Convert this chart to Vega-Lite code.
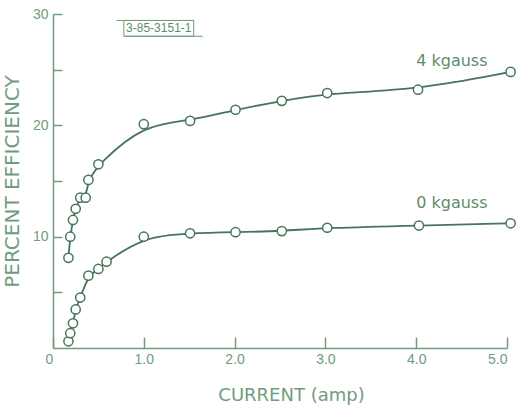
{
  "$schema": "https://vega.github.io/schema/vega-lite/v6.json",
  "width": 454,
  "height": 334,
  "autosize": {"type": "none"},
  "padding": {"left": 53, "top": 14, "right": 10, "bottom": 65},
  "background": "#ffffff",
  "config": {
    "view": {"stroke": null},
    "font": "DejaVu Sans",
    "axis": {
      "domainColor": "#6f9c7d",
      "tickColor": "#6f9c7d",
      "labelColor": "#6f9c7d",
      "titleColor": "#6f9c7d",
      "grid": false,
      "labelFont": "Liberation Sans",
      "labelFontSize": 14,
      "titleFont": "DejaVu Sans",
      "titleFontWeight": "normal",
      "domainWidth": 1.5,
      "tickWidth": 1.5
    }
  },
  "datasets": {
    "pts": [
      {"series": "4 kgauss", "current": 0.17, "eff": 8.1},
      {"series": "4 kgauss", "current": 0.19, "eff": 10.0},
      {"series": "4 kgauss", "current": 0.22, "eff": 11.5},
      {"series": "4 kgauss", "current": 0.25, "eff": 12.5},
      {"series": "4 kgauss", "current": 0.3, "eff": 13.5},
      {"series": "4 kgauss", "current": 0.36, "eff": 13.5},
      {"series": "4 kgauss", "current": 0.39, "eff": 15.1},
      {"series": "4 kgauss", "current": 0.5, "eff": 16.5},
      {"series": "4 kgauss", "current": 1.0, "eff": 20.1},
      {"series": "4 kgauss", "current": 1.51, "eff": 20.4},
      {"series": "4 kgauss", "current": 2.01, "eff": 21.4},
      {"series": "4 kgauss", "current": 2.52, "eff": 22.2},
      {"series": "4 kgauss", "current": 3.02, "eff": 22.9},
      {"series": "4 kgauss", "current": 4.02, "eff": 23.2},
      {"series": "4 kgauss", "current": 5.04, "eff": 24.8},
      {"series": "0 kgauss", "current": 0.17, "eff": 0.6},
      {"series": "0 kgauss", "current": 0.19, "eff": 1.33},
      {"series": "0 kgauss", "current": 0.22, "eff": 2.22},
      {"series": "0 kgauss", "current": 0.25, "eff": 3.46},
      {"series": "0 kgauss", "current": 0.3, "eff": 4.53},
      {"series": "0 kgauss", "current": 0.39, "eff": 6.5},
      {"series": "0 kgauss", "current": 0.5, "eff": 7.1},
      {"series": "0 kgauss", "current": 0.59, "eff": 7.75},
      {"series": "0 kgauss", "current": 1.0, "eff": 10.0},
      {"series": "0 kgauss", "current": 1.51, "eff": 10.3},
      {"series": "0 kgauss", "current": 2.01, "eff": 10.4},
      {"series": "0 kgauss", "current": 2.52, "eff": 10.5},
      {"series": "0 kgauss", "current": 3.02, "eff": 10.8},
      {"series": "0 kgauss", "current": 4.03, "eff": 11.0},
      {"series": "0 kgauss", "current": 5.04, "eff": 11.2}
    ],
    "labels": [
      {"text": "4  kgauss", "current": 4.0, "eff": 25.8},
      {"text": "0 kgauss", "current": 4.0, "eff": 13.0}
    ],
    "box": [
      {"text": "3-85-3151-1", "x1": 0.78, "x2": 1.55, "y1": 28.0, "y2": 29.42, "xm": 1.165, "ym": 28.7}
    ],
    "boxlines": [
      {"x1": 0.7, "x2": 1.55, "y": 29.42},
      {"x1": 0.78, "x2": 1.65, "y": 28.0}
    ]
  },
  "layer": [
    {
      "data": {"name": "pts"},
      "mark": {"type": "line", "interpolate": "basis", "color": "#46755a", "strokeWidth": 1.8},
      "encoding": {
        "x": {
          "field": "current", "type": "quantitative",
          "scale": {"domain": [0, 5], "nice": false, "zero": true},
          "axis": {
            "values": [0, 1, 2, 3, 4, 5],
            "labelExpr": "datum.value == 0 ? '0' : format(datum.value, '.1f')",
            "labelOffset": {"condition": {"test": "datum.value == 0", "value": -8}, "value": 0},
            "tickSize": -11,
            "labelPadding": 15,
            "title": "CURRENT (amp)",
            "titleFontSize": 18,
            "titleX": 238,
            "titlePadding": 20
          }
        },
        "y": {
          "field": "eff", "type": "quantitative",
          "scale": {"domain": [0, 30], "nice": false},
          "axis": {
            "values": [5, 10, 15, 20, 25, 30],
            "labelExpr": "datum.value % 10 == 0 ? datum.value : ''",
            "tickSize": -9,
            "labelPadding": 14,
            "title": "PERCENT EFFICIENCY",
            "titleFontSize": 20,
            "titlePadding": 10
          }
        },
        "detail": {"field": "series"}
      }
    },
    {
      "data": {"name": "pts"},
      "mark": {"type": "point", "shape": "circle", "filled": true, "fill": "#ffffff", "stroke": "#46755a", "strokeWidth": 1.5, "size": 85, "opacity": 1},
      "encoding": {
        "x": {"field": "current", "type": "quantitative"},
        "y": {"field": "eff", "type": "quantitative"}
      }
    },
    {
      "data": {"name": "labels"},
      "mark": {"type": "text", "align": "left", "baseline": "middle", "color": "#5f8c6c", "fontSize": 16, "font": "DejaVu Sans"},
      "encoding": {
        "x": {"field": "current", "type": "quantitative"},
        "y": {"field": "eff", "type": "quantitative"},
        "text": {"field": "text"}
      }
    },
    {
      "data": {"name": "box"},
      "mark": {"type": "rect", "fill": null, "stroke": "#6f9c7d", "strokeWidth": 1},
      "encoding": {
        "x": {"field": "x1", "type": "quantitative"},
        "x2": {"field": "x2"},
        "y": {"field": "y1", "type": "quantitative"},
        "y2": {"field": "y2"}
      }
    },
    {
      "data": {"name": "boxlines"},
      "mark": {"type": "rule", "stroke": "#6f9c7d", "strokeWidth": 1},
      "encoding": {
        "x": {"field": "x1", "type": "quantitative"},
        "x2": {"field": "x2"},
        "y": {"field": "y", "type": "quantitative"}
      }
    },
    {
      "data": {"name": "box"},
      "mark": {"type": "text", "align": "center", "baseline": "middle", "color": "#5f8c6c", "fontSize": 12, "font": "Liberation Sans"},
      "encoding": {
        "x": {"field": "xm", "type": "quantitative"},
        "y": {"field": "ym", "type": "quantitative"},
        "text": {"field": "text"}
      }
    }
  ]
}
